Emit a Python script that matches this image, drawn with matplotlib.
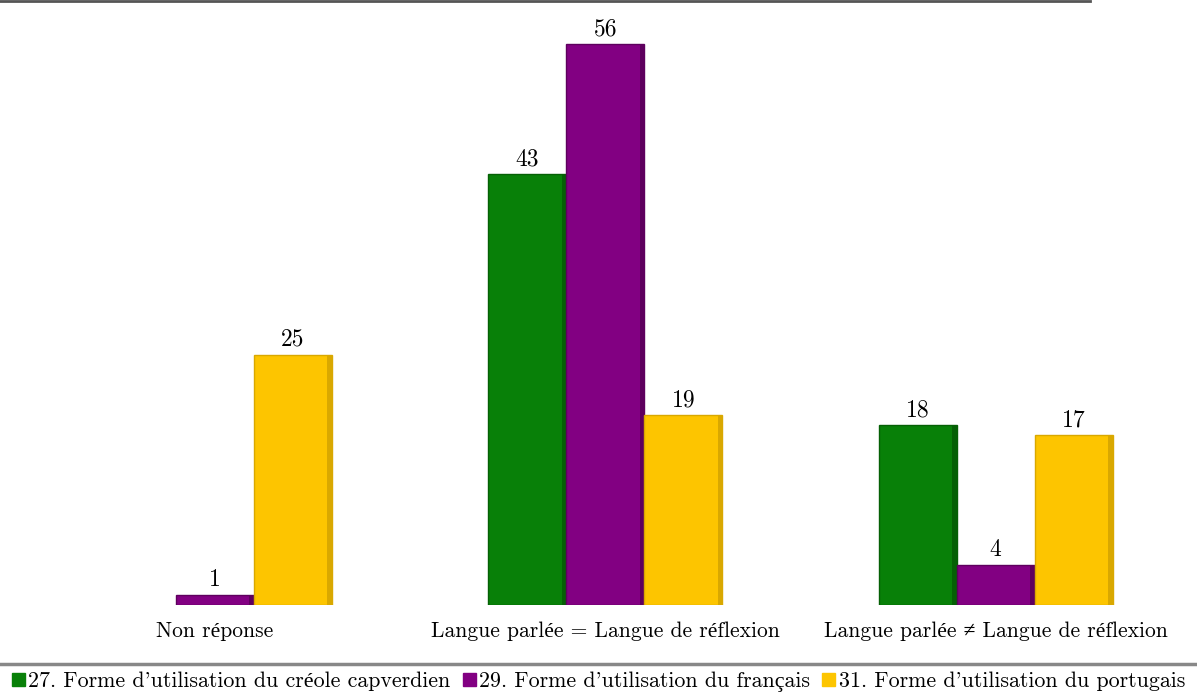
import matplotlib
matplotlib.use("Agg")
import matplotlib.pyplot as plt
import numpy as np

categories = ["Non réponse", "Langue parlée = Langue de réflexion", "Langue parlée ≠ Langue de réflexion"]
series = ["27. Forme d'utilisation du créole capverdien",
          "29. Forme d'utilisation du français",
          "31. Forme d'utilisation du portugais"]
creole = [0, 43, 18]
francais = [1, 56, 4]
portugais = [25, 19, 17]

colors = ["#088008", "#820082", "#fdc500"]
edges = ["#056005", "#5e005e", "#d9a800"]

plt.rcParams['font.family'] = ['cmr10', 'Liberation Serif']
plt.rcParams['axes.formatter.use_mathtext'] = True

W, H = 1197, 695
fig = plt.figure(figsize=(W / 100, H / 100), dpi=100)
ax = fig.add_axes([0, (H - 605) / H, 1, 604 / H])

x = np.arange(len(categories))
width = 0.2
unit = 390.3
ax.set_xlim(-215 / unit, (W - 215) / unit)
ax.set_ylim(0, 604 / 10.02)

for i, vals in enumerate([creole, francais, portugais]):
    pos = x + (i - 1) * width
    for p, v in zip(pos, vals):
        if v == 0:
            continue
        ax.bar(p, v, width, color=colors[i], edgecolor=edges[i], linewidth=1)
        # darker side shading for the slight 3D look
        ax.bar(p + width / 2 - 0.006, v, 0.012, color=edges[i], linewidth=0)
        ax.text(p, v + 0.35, str(v), ha='center', va='bottom', fontsize=17)

for s in ax.spines.values():
    s.set_visible(False)
ax.set_xticks([])
ax.set_yticks([])
ax.axhline(ax.get_ylim()[1], xmin=0, xmax=1090 / W, color='#555555', lw=2, clip_on=False)

# category labels
for xi, lab in zip(x, categories):
    ax.text(xi, -2.6, lab, ha='center', va='center', fontsize=15.5)

# legend separator line
fig.add_artist(plt.Line2D([0, 1], [(H - 664) / H] * 2, color='#888888', lw=2.5))

handles = [plt.Rectangle((0, 0), 1, 1, color=c) for c in colors]
fig.legend(handles, series, loc='center', bbox_to_anchor=(0.5, (H - 682) / H), ncol=3,
           frameon=False, fontsize=15.8, handlelength=0.6, handleheight=0.6,
           handletextpad=0.15, columnspacing=0.55, borderaxespad=0)

fig.savefig("out.png", dpi=100)
